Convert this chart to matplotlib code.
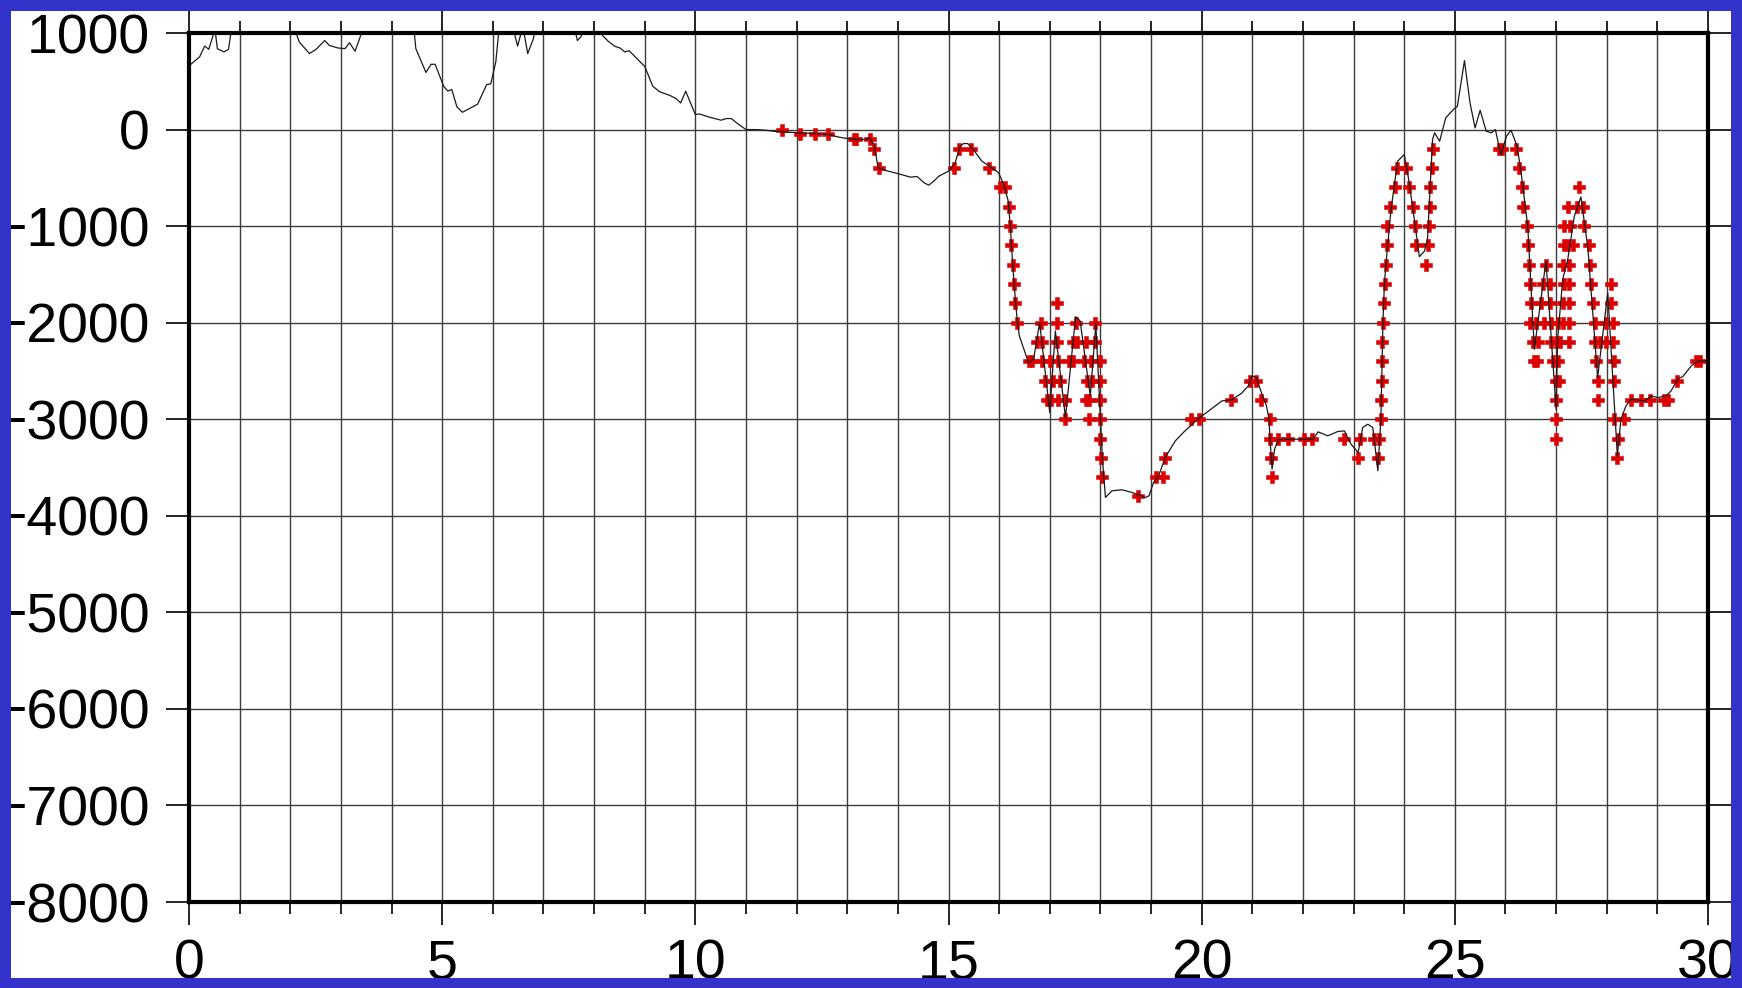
import numpy as np
import matplotlib.pyplot as plt
from matplotlib.patches import Rectangle

# 측선 프로파일 (거리 km, 고도/수심 m)
prof_km = [0.00, 0.21, 0.31, 0.39, 0.47, 0.51, 0.56, 0.69, 0.78, 0.82, 0.86, 1.2, 1.6, 2.0,
           2.10, 2.18, 2.38, 2.51, 2.68, 2.77, 2.94, 3.08, 3.17, 3.28, 3.39, 3.45, 3.8, 4.2,
           4.44, 4.48, 4.68, 4.78, 4.86, 5.03, 5.11, 5.19, 5.29, 5.40, 5.70, 5.88, 5.96, 6.06,
           6.11, 6.15, 6.40, 6.49, 6.57, 6.62, 6.69, 6.80, 6.84, 7.2, 7.62, 7.67, 7.74, 7.80,
           8.0, 8.12, 8.17, 8.28, 8.41, 8.51, 8.61, 8.69, 8.77, 8.93, 9.00, 9.16, 9.30, 9.49,
           9.62, 9.71, 9.81, 10.00, 10.08, 10.28, 10.51, 10.61, 10.71, 10.84, 11.00, 11.20,
           11.39, 11.53, 11.72, 12.05, 12.38, 12.64, 12.84, 13.00, 13.17, 13.36, 13.43, 13.53,
           13.61, 13.76, 14.02, 14.25, 14.38, 14.52, 14.61, 14.71, 14.81, 15.00, 15.13, 15.23,
           15.30, 15.38, 15.49, 15.66, 15.86, 15.99, 16.09, 16.18, 16.22, 16.27, 16.32, 16.36,
           16.40, 16.58, 16.68, 16.80, 17.00, 17.11, 17.31, 17.51, 17.60, 17.80, 17.91, 18.00,
           18.04, 18.10, 18.23, 18.43, 18.62, 18.89, 18.96, 19.05, 19.15, 19.28, 19.48, 19.67,
           19.94, 20.20, 20.40, 20.59, 20.79, 20.92, 20.99, 21.08, 21.18, 21.28, 21.33, 21.35,
           21.39, 21.44, 21.51, 21.71, 22.04, 22.20, 22.30, 22.49, 22.69, 22.82, 22.95, 23.09,
           23.18, 23.28, 23.38, 23.48, 23.54, 23.58, 23.61, 23.66, 23.74, 23.87, 24.00, 24.10,
           24.20, 24.30, 24.40, 24.46, 24.56, 24.60, 24.70, 24.82, 24.97, 25.05, 25.19, 25.30,
           25.40, 25.50, 25.62, 25.72, 25.80, 25.91, 26.02, 26.11, 26.23, 26.31, 26.44, 26.57,
           26.80, 27.00, 27.03, 27.13, 27.23, 27.36, 27.49, 27.63, 27.82, 28.02, 28.21, 28.28,
           28.38, 28.48, 28.75, 28.88, 29.01, 29.17, 29.27, 29.41, 29.50, 29.67, 29.80, 30.00]
prof_m = [660, 753, 865, 831, 966, 1050, 838, 804, 831, 973, 1100, 1250, 1300, 1150,
          1020, 905, 787, 831, 922, 872, 845, 838, 899, 811, 973, 1100, 1300, 1250,
          1050, 838, 591, 676, 676, 449, 398, 415, 236, 179, 263, 466, 473, 703,
          973, 1100, 1050, 865, 1020, 990, 787, 939, 1050, 1200, 1040, 922, 960, 1050,
          1100, 1030, 973, 914, 862, 845, 803, 817, 776, 690, 655, 448, 390, 355,
          321, 276, 397, 155, 162, 128, 97, 114, 114, 59, 0, 0,
          -7, -17, -24, -34, -41, -52, -79, -93, -103, -103, -86, -155,
          -397, -424, -459, -493, -486, -552, -576, -534, -483, -431, -345, -172,
          -145, -145, -207, -328, -397, -448, -569, -741, -1000, -1414, -1759, -1993,
          -2138, -2414, -2379, -2000, -2931, -2086, -2983, -1938, -1983, -2759, -2017, -3000,
          -3414, -3810, -3741, -3731, -3758, -3810, -3793, -3655, -3586, -3396, -3224, -3121,
          -2993, -2890, -2810, -2800, -2731, -2655, -2552, -2569, -2724, -2862, -3000, -3207,
          -3517, -3310, -3214, -3207, -3207, -3207, -3131, -3172, -3127, -3121, -3259, -3345,
          -3086, -3052, -3086, -3534, -3000, -2000, -1586, -1276, -828, -328, -259, -552,
          -931, -1317, -1259, -1138, -103, -34, -121, 121, 207, 240, 714, 276,
          17, 200, -17, -34, 0, -259, -69, -7, -172, -448, -1000, -2276,
          -1362, -2896, -2172, -1552, -1345, -897, -697, -1241, -2569, -1690, -3379, -3000,
          -2862, -2793, -2810, -2759, -2776, -2759, -2707, -2579, -2559, -2448, -2397, -2397]

# 빨간 + 표시 지점 (거리 km, 깊이 m)
pts_km = [11.71, 12.06, 12.37, 12.62, 13.13, 13.17, 13.44, 13.53, 13.63,
          15.10, 15.20, 15.45, 15.79, 16.02, 16.12, 16.20, 16.21, 16.24, 16.27, 16.30, 16.32,
          16.36, 16.82, 17.14, 17.52, 17.89, 17.14,
          16.75, 16.84, 17.14, 17.45, 17.54, 17.72, 17.90,
          16.59, 16.65, 16.85, 17.01, 17.16, 17.37, 17.45, 17.67, 17.82, 18.00,
          16.91, 17.06, 17.21, 17.74, 17.83, 18.00,
          16.95, 17.03, 17.16, 17.31, 17.72, 17.77, 18.00,
          17.31, 17.77, 18.00,
          18.00, 18.02, 18.03, 18.75, 19.09, 19.23, 19.28, 19.78, 19.94, 20.58, 20.95, 21.08,
          21.18, 21.35, 21.35, 21.37, 21.38, 21.51, 21.71, 22.02, 22.18, 22.82, 23.09, 23.12,
          23.40, 23.48, 23.51,
          23.55, 23.55, 23.57, 23.57, 23.57, 23.59, 23.60, 23.62, 23.64, 23.66, 23.67, 23.72,
          23.82, 23.85, 24.03, 24.10, 24.18, 24.21, 24.23, 24.47, 24.43, 24.49, 24.51, 24.51,
          24.54, 24.56,
          25.88, 25.94, 26.21, 26.27, 26.32, 26.35, 26.43, 26.44, 26.47, 26.49, 26.51, 26.49,
          26.60, 26.54, 26.64, 26.56, 26.62,
          26.80, 26.74, 26.87, 26.70, 26.87, 26.77, 26.90, 26.90, 27.00, 26.93, 27.03, 27.00,
          27.06, 27.00, 27.00, 27.00,
          27.03, 27.07, 27.13, 27.26, 27.13, 27.26, 27.16, 27.26, 27.13, 27.26, 27.16, 27.23,
          27.33, 27.16, 27.28, 27.24, 27.42, 27.53, 27.46, 27.56, 27.64, 27.66, 27.69, 27.73,
          27.76, 27.76, 27.86, 27.79, 27.82, 27.82, 27.26,
          27.99, 28.12, 27.99, 28.12, 28.09, 28.09, 28.14, 28.15,
          28.14, 28.34, 28.22, 28.21, 28.48, 28.68, 28.85, 29.14, 29.21, 29.39, 29.77, 29.85]
pts_m = [0, -50, -50, -50, -100, -100, -100, -200, -400,
         -400, -200, -200, -400, -600, -600, -800, -1000, -1200, -1400, -1600, -1800,
         -2000, -2000, -2000, -2000, -2000, -1800,
         -2200, -2200, -2200, -2200, -2200, -2200, -2200,
         -2400, -2400, -2400, -2400, -2400, -2400, -2400, -2400, -2400, -2400,
         -2600, -2600, -2600, -2600, -2600, -2600,
         -2800, -2800, -2800, -2800, -2800, -2800, -2800,
         -3000, -3000, -3000,
         -3200, -3400, -3600, -3800, -3600, -3600, -3400, -3000, -3000, -2800, -2600, -2600,
         -2800, -3000, -3200, -3400, -3600, -3200, -3200, -3200, -3200, -3200, -3400, -3200,
         -3200, -3400, -3200,
         -3000, -2800, -2600, -2400, -2200, -2000, -1800, -1600, -1400, -1200, -1000, -800,
         -600, -400, -400, -600, -800, -1000, -1200, -1200, -1400, -1000, -800, -600,
         -400, -200,
         -200, -200, -200, -400, -600, -800, -1000, -1200, -1400, -1600, -1800, -2000,
         -2000, -2200, -2200, -2400, -2400,
         -1400, -1600, -1600, -1800, -1800, -2000, -2000, -2200, -2200, -2400, -2400, -2600,
         -2600, -2800, -3000, -3200,
         -2000, -2200, -2000, -2000, -1800, -1800, -1600, -1600, -1400, -1400, -1200, -1200,
         -1200, -1000, -1000, -800, -800, -800, -600, -1000, -1200, -1400, -1600, -1800,
         -2000, -2200, -2200, -2400, -2600, -2800, -2200,
         -2000, -2000, -2200, -2200, -1600, -1800, -2400, -2600,
         -3000, -3000, -3200, -3400, -2800, -2800, -2800, -2800, -2800, -2600, -2400, -2400]

plt.rcParams['font.family'] = ['Liberation Sans', 'DejaVu Sans']

fig = plt.figure(figsize=(17.42, 9.88), dpi=100)
W, H = 1742, 988
ax = fig.add_axes([189 / W, 1 - 902 / H, (1708 - 189) / W, (902 - 33) / H])

ax.plot(pts_km, pts_m, linestyle='none', marker='P', ms=9, color='#dd0000',
        mec='#dd0000', mew=0.4, zorder=3)
ax.plot(prof_km, prof_m, color='#1a1a1a', lw=0.9, zorder=4)

ax.set_xlim(0, 30)
ax.set_ylim(-8000, 1000)
ax.set_xticks(np.arange(0, 31, 5))
ax.set_xticks(np.arange(0, 31, 1), minor=True)
ax.set_yticks(np.arange(-8000, 1001, 1000))

# 격자
ax.grid(which='both', axis='x', color='#3c3c3c', lw=1.0, zorder=1)
ax.grid(which='major', axis='y', color='#3c3c3c', lw=1.0, zorder=1)
ax.set_axisbelow(True)

ax.tick_params(which='major', direction='out', length=16.5, width=1.2, color='black',
               top=True, right=True, labelsize=40)
ax.tick_params(which='minor', direction='out', length=8.6, width=1.2, color='black',
               top=True, bottom=True)
ax.tick_params(axis='x', which='major', pad=10)
ax.tick_params(axis='y', which='major', pad=12)
for s in ax.spines.values():
    s.set_linewidth(3)
    s.set_zorder(5)

# 파란 테두리
blue = '#3333cc'
for x0, y0, w, h in [(0, 0, 11, H), (W - 11, 0, 11, H), (0, 0, W, 10), (0, H - 11, W, 11)]:
    fig.add_artist(Rectangle((x0 / W, y0 / H), w / W, h / H, transform=fig.transFigure,
                             facecolor=blue, edgecolor='none', zorder=20))

fig.savefig('out.png', dpi=100, facecolor='white')
